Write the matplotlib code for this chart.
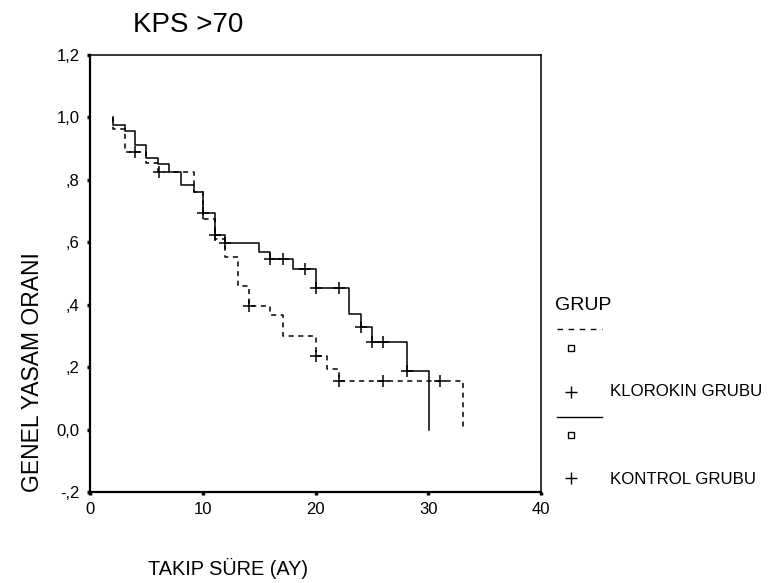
import numpy as np
import matplotlib
matplotlib.use('Agg')
import matplotlib.pyplot as plt
from matplotlib.lines import Line2D

plt.rcParams['font.family'] = ['Liberation Sans', 'DejaVu Sans']

# KONTROL GRUBU (solid) - step times and survival after each step
kontrol_t = [2.0, 2.0, 3.1, 4.0, 5.0, 6.0, 7.0, 8.1, 9.2, 10.0, 11.1, 12.0, 15.0, 16.0, 18.0, 20.0, 23.0, 24.0, 25.0, 28.1, 30.1]
kontrol_s = [1.0, 0.976, 0.957, 0.912, 0.871, 0.851, 0.825, 0.783, 0.762, 0.695, 0.623, 0.598, 0.570, 0.545, 0.514, 0.454, 0.370, 0.329, 0.281, 0.187, 0.0]
kontrol_cens_t = [10.0, 11.1, 12.0, 16.0, 17.1, 19.1, 20.0, 22.1, 24.0, 25.0, 26.0, 28.1]
kontrol_cens_s = [0.695, 0.623, 0.598, 0.545, 0.545, 0.514, 0.454, 0.454, 0.329, 0.281, 0.281, 0.187]

# KLOROKIN GRUBU (dashed)
klorokin_t = [2.0, 2.0, 3.1, 5.0, 6.0, 9.2, 10.0, 11.1, 12.0, 13.1, 14.1, 16.0, 17.1, 20.0, 21.0, 22.1, 33.1]
klorokin_s = [1.0, 0.964, 0.888, 0.855, 0.825, 0.762, 0.674, 0.612, 0.552, 0.460, 0.396, 0.367, 0.299, 0.235, 0.193, 0.155, 0.0]
klorokin_cens_t = [4.0, 6.1, 14.1, 20.0, 22.1, 26.0, 31.0]
klorokin_cens_s = [0.888, 0.825, 0.396, 0.235, 0.155, 0.155, 0.155]

xticks = [0, 10, 20, 30, 40]
yticks = [-0.2, 0.0, 0.2, 0.4, 0.6, 0.8, 1.0, 1.2]
ytick_labels = ['-,2', '0,0', ',2', ',4', ',6', ',8', '1,0', '1,2']

fig = plt.figure(figsize=(7.68, 5.83), dpi=100)
ax = fig.add_axes([90/768, 1 - 492/583, 451/768, 437/583])

ax.plot(kontrol_t, kontrol_s, drawstyle='steps-post', color='black', lw=1.1)
ax.plot(klorokin_t, klorokin_s, drawstyle='steps-post', color='black', lw=1.1,
        linestyle=(0, (3.3, 3)))
ax.plot(kontrol_cens_t, kontrol_cens_s, '+', color='black', ms=8, mew=1.1)
ax.plot(klorokin_cens_t, klorokin_cens_s, '+', color='black', ms=8, mew=1.1)

ax.set_xlim(0, 40)
ax.set_ylim(-0.2, 1.2)
ax.set_xticks(xticks)
ax.set_yticks(yticks)
ax.set_yticklabels(ytick_labels)
ax.tick_params(direction='out', length=2.5, width=2.5, labelsize=12, pad=5)
for s in ['left', 'bottom']:
    ax.spines[s].set_linewidth(1.6)
for s in ['top', 'right']:
    ax.spines[s].set_linewidth(1.1)

fig.text(133/768, 1 - 25/583, 'KPS >70', fontsize=20, va='center', ha='left')
fig.text(148/768, 1 - 568/583, 'TAKIP SÜRE (AY)', fontsize=14.3, va='center', ha='left')
fig.text(33/768, 1 - 372/583, 'GENEL YASAM ORANI', fontsize=16.5, va='center', ha='center',
         rotation=90)

# legend drawn in pixel coordinates
lax = fig.add_axes([0, 0, 1, 1])
lax.set_xlim(0, 768)
lax.set_ylim(583, 0)
lax.axis('off')
lax.text(555, 305, 'GRUP', fontsize=14, va='center', ha='left')
lax.add_line(Line2D([557, 602], [329, 329], color='black', lw=1.0, linestyle=(0, (4, 4))))
lax.plot([571], [348], 's', ms=4.5, mfc='white', mec='black', mew=1.0)
lax.plot([571], [392], '+', ms=9, color='black', mew=1.0)
lax.text(610, 392, 'KLOROKIN GRUBU', fontsize=12.2, va='center', ha='left')
lax.add_line(Line2D([557, 602], [417, 417], color='black', lw=1.0))
lax.plot([571], [435], 's', ms=4.5, mfc='white', mec='black', mew=1.0)
lax.plot([571], [478], '+', ms=9, color='black', mew=1.0)
lax.text(610, 479, 'KONTROL GRUBU', fontsize=12.2, va='center', ha='left')

fig.savefig('out.png', dpi=100)
